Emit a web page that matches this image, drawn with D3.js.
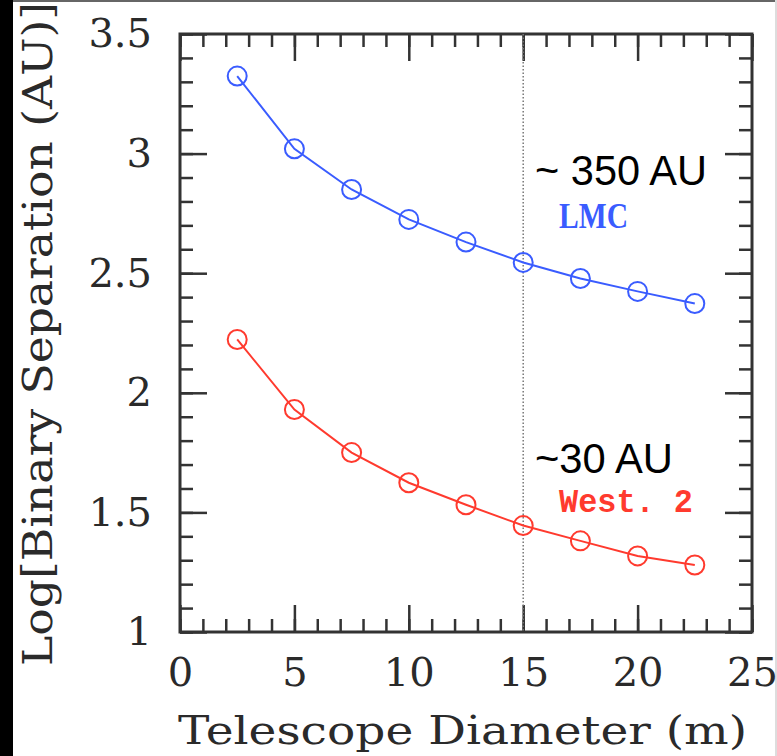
<!DOCTYPE html>
<html>
<head>
<meta charset="utf-8">
<script src="https://cdn.jsdelivr.net/npm/d3@7"></script>
<style>
  body { margin: 0; background: #fff; }
  svg { display: block; }
</style>
</head>
<body>
<div id="chart"></div>
<script>
const WIDTH = 777
const HEIGHT = 756

// telescope diameters (m)
const diameters = [2.5, 5, 7.5, 10, 12.5, 15, 17.5, 20, 22.5]
// log binary separation, LMC and West. 2
const lmc = [3.324, 3.02, 2.85, 2.725, 2.63, 2.545, 2.478, 2.424, 2.373]
const west2 = [2.223, 1.93, 1.75, 1.624, 1.532, 1.445, 1.381, 1.318, 1.28]

const xTicks = [0, 5, 10, 15, 20, 25]
const yTicks = [1, 1.5, 2, 2.5, 3, 3.5]
const xMinor = d3.range(0, 25.01, 1)
const yMinor = d3.range(1, 3.501, 0.1)

const x = d3.scaleLinear().domain([0, 25]).range([180, 752])
const y = d3.scaleLinear().domain([1, 3.5]).range([632, 34])

const svg = d3.select("#chart")
  .append("svg")
  .attr("width", WIDTH)
  .attr("height", HEIGHT)

svg.append("rect").attr("width", WIDTH).attr("height", HEIGHT).attr("fill", "#fff")

// black strip on the left, thin grey edges
svg.append("rect").attr("x", 0).attr("y", 0).attr("width", 13).attr("height", HEIGHT).attr("fill", "#000")
svg.append("rect").attr("x", 13).attr("y", 0).attr("width", WIDTH).attr("height", 2).attr("fill", "#666")
svg.append("rect").attr("x", 775).attr("y", 0).attr("width", 2).attr("height", HEIGHT).attr("fill", "#ddd")

const serif = "'DejaVu Serif', serif"

function styleAxis(g) {
  g.select(".domain").remove()
  g.selectAll(".tick line").attr("stroke", "#333").attr("stroke-width", 2.5)
}

// minor + major ticks on all four sides, pointing inward
svg.append("g").attr("transform", "translate(0,632)")
  .call(d3.axisBottom(x).tickValues(xMinor).tickSize(-13).tickFormat(""))
  .call(styleAxis)
svg.append("g").attr("transform", "translate(0,34)")
  .call(d3.axisTop(x).tickValues(xMinor).tickSize(-13).tickFormat(""))
  .call(styleAxis)
svg.append("g").attr("transform", "translate(180,0)")
  .call(d3.axisLeft(y).tickValues(yMinor).tickSize(-13).tickFormat(""))
  .call(styleAxis)
svg.append("g").attr("transform", "translate(752,0)")
  .call(d3.axisRight(y).tickValues(yMinor).tickSize(-13).tickFormat(""))
  .call(styleAxis)

svg.append("g").attr("transform", "translate(0,632)")
  .call(d3.axisBottom(x).tickValues(xTicks).tickSize(-27).tickPadding(26).tickFormat(d3.format("d")))
  .call(styleAxis)
svg.append("g").attr("transform", "translate(0,34)")
  .call(d3.axisTop(x).tickValues(xTicks).tickSize(-27).tickFormat(""))
  .call(styleAxis)
svg.append("g").attr("transform", "translate(180,0)")
  .call(d3.axisLeft(y).tickValues(yTicks).tickSize(-27).tickPadding(28).tickFormat(d => d))
  .call(styleAxis)
svg.append("g").attr("transform", "translate(752,0)")
  .call(d3.axisRight(y).tickValues(yTicks).tickSize(-27).tickFormat(""))
  .call(styleAxis)

svg.selectAll(".tick text")
  .attr("font-family", serif)
  .attr("font-size", 40)
  .attr("fill", "#2a2a2a")

// frame
svg.append("rect")
  .attr("x", x(0)).attr("y", y(3.5))
  .attr("width", x(25) - x(0)).attr("height", y(1) - y(3.5))
  .attr("fill", "none").attr("stroke", "#333").attr("stroke-width", 3)

// dotted line at 15 m
svg.append("line")
  .attr("x1", x(15)).attr("x2", x(15))
  .attr("y1", y(3.5)).attr("y2", y(1))
  .attr("stroke", "#777").attr("stroke-width", 1.5)
  .attr("stroke-dasharray", "1.5,2")

const series = [
  { name: "LMC", values: lmc, color: "#3a5cff" },
  { name: "West. 2", values: west2, color: "#ff3a2e" }
]

const line = d3.line().x(d => x(d[0])).y(d => y(d[1]))

series.forEach(s => {
  const pts = diameters.map((d, i) => [d, s.values[i]])
  svg.append("path")
    .datum(pts)
    .attr("d", line)
    .attr("fill", "none")
    .attr("stroke", s.color)
    .attr("stroke-width", 2)
  svg.selectAll(null)
    .data(pts)
    .join("circle")
    .attr("cx", d => x(d[0]))
    .attr("cy", d => y(d[1]))
    .attr("r", 9.5)
    .attr("fill", "none")
    .attr("stroke", s.color)
    .attr("stroke-width", 2)
})

// annotations
svg.append("text").text("~ 350 AU")
  .attr("x", 535).attr("y", 185)
  .attr("font-family", "'Liberation Sans', Arial, sans-serif").attr("font-size", 42)
  .attr("textLength", 172).attr("lengthAdjust", "spacingAndGlyphs")
svg.append("text").text("LMC")
  .attr("x", 559).attr("y", 228)
  .attr("font-family", "'Liberation Serif', serif").attr("font-weight", "bold").attr("font-size", 36)
  .attr("fill", "#3a5cff")
  .attr("textLength", 69).attr("lengthAdjust", "spacingAndGlyphs")
svg.append("text").text("~30 AU")
  .attr("x", 535).attr("y", 473)
  .attr("font-family", "'Liberation Sans', Arial, sans-serif").attr("font-size", 42)
  .attr("textLength", 138).attr("lengthAdjust", "spacingAndGlyphs")
svg.append("text").text("West. 2")
  .attr("x", 559).attr("y", 512)
  .attr("font-family", "'Liberation Mono', monospace").attr("font-weight", "bold").attr("font-size", 34)
  .attr("fill", "#ff3a2e")
  .attr("textLength", 134).attr("lengthAdjust", "spacingAndGlyphs")

// axis titles
svg.append("text").text("Telescope Diameter (m)")
  .attr("x", 178).attr("y", 744)
  .attr("font-family", serif).attr("font-size", 40).attr("fill", "#2a2a2a")
  .attr("textLength", 569).attr("lengthAdjust", "spacingAndGlyphs")
svg.append("text").text("Log[Binary Separation (AU)]")
  .attr("transform", "translate(52,666) rotate(-90)")
  .attr("font-family", serif).attr("font-size", 41).attr("fill", "#2a2a2a")
  .attr("textLength", 664).attr("lengthAdjust", "spacingAndGlyphs")
</script>
</body>
</html>
